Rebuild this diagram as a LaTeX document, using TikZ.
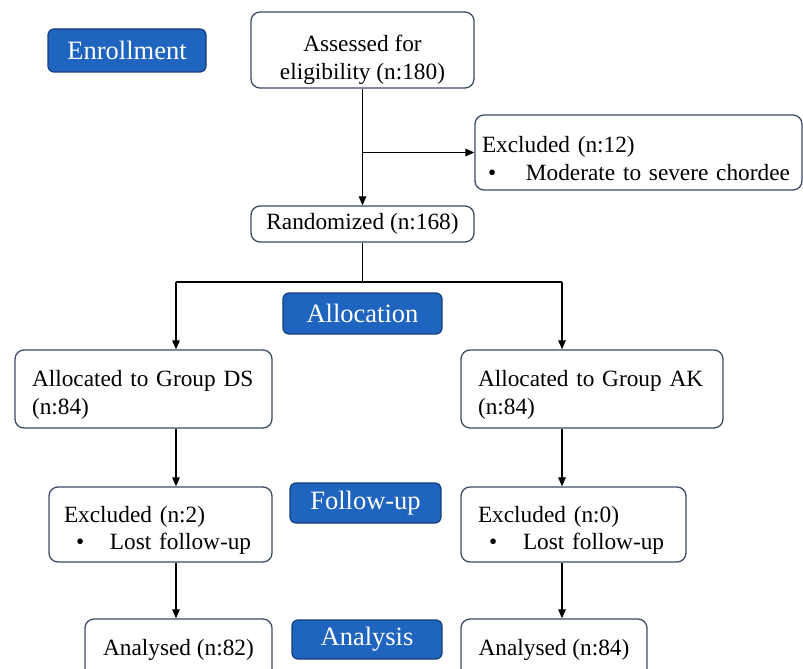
\documentclass[tikz,border=0pt]{standalone}
\usepackage{fontspec}
\setmainfont{Liberation Serif}
\usetikzlibrary{arrows.meta}
\definecolor{phaseblue}{RGB}{31,101,192}
\definecolor{phaseedge}{RGB}{22,62,120}
\definecolor{boxedge}{RGB}{60,75,102}
\begin{document}
\begin{tikzpicture}[x=1pt,y=-1pt,
        phase/.style={draw=phaseedge,line width=1.2pt,fill=phaseblue,rounded corners=6pt,text=white,inner sep=0pt,font=\fontsize{26.5}{30}\selectfont},
        stepbox/.style={draw=boxedge,line width=1.3pt,fill=white,rounded corners=9pt,inner ysep=0pt,font=\fontsize{23.3}{27.5}\selectfont},
        twoline/.style={execute at begin node={\rule{0pt}{28pt}}},
        leftbox/.style={stepbox,twoline,align=left},
        link/.style={line width=1.2pt},
        flow/.style={link,-{Triangle[length=9pt,width=7.5pt]}}]
    \path[use as bounding box,fill=white] (0,0) rectangle (803,669);
                \node[phase,minimum width=158pt,minimum height=43pt] (enroll) at (127,50.5){Enrollment};
                \node[stepbox,align=center,minimum width=223pt,minimum height=76pt] (assess) at (362.5,50){\rule{0pt}{36pt}Assessed for\\eligibility (n:180)};
                \node[leftbox,text width=313pt,inner xsep=7pt,minimum height=75pt] (excl) at (638.5,152.5){Excluded (n:12)\\\hspace*{6pt}\makebox[38pt][l]{\textbullet}Moderate to severe chordee};
                \node[stepbox,minimum width=223pt,minimum height=36pt] (rand) at (362.5,224){Randomized (n:168)};
                \node[phase,minimum width=159pt,minimum height=41pt] (alloc) at (362.5,313.5){Allocation};
                \node[leftbox,text width=223pt,inner xsep=17pt,minimum height=78pt] (grpds) at (143.5,389){Allocated to Group DS\\(n:84)};
                \node[leftbox,text width=228pt,inner xsep=17pt,minimum height=78pt] (grpak) at (592,389){Allocated to Group AK\\(n:84)};
                \node[leftbox,text width=193pt,inner xsep=15pt,minimum height=75pt] (exds) at (160.5,524.5){Excluded (n:2)\\\hspace*{12pt}\makebox[34pt][l]{\textbullet}Lost follow-up};
                \node[phase,minimum width=151pt,minimum height=40pt] (follow) at (365.5,503){Follow-up};
                \node[leftbox,text width=191pt,inner xsep=17pt,minimum height=75pt] (exak) at (573.5,524.5){Excluded (n:0)\\\hspace*{11pt}\makebox[34pt][l]{\textbullet}Lost follow-up};
                \node[stepbox,minimum width=187pt,minimum height=62pt] (anads) at (178.5,650){Analysed (n:82)};
                \node[phase,minimum width=150pt,minimum height=39pt] (analysis) at (367,639.5){Analysis};
                \node[stepbox,minimum width=186pt,minimum height=62pt] (anaak) at (554,650){Analysed (n:84)};
    \coordinate (br) at (assess.south |- excl.west);
    \coordinate (cl) at (176,282);
    \coordinate (cr) at (562,282);
                \draw[flow] (assess) -- (rand);
                \draw[flow] (br) -- (excl.west);
                \draw[link] (rand.south) -- (rand.south |- cl);
                \draw[link] (cl) -- (cr);
                \draw[flow] (cl) -- (cl |- grpds.north);
                \draw[flow] (cr) -- (cr |- grpak.north);
                \draw[flow] (cl |- grpds.south) -- (cl |- exds.north);
                \draw[flow] (cr |- grpak.south) -- (cr |- exak.north);
                \draw[flow] (cl |- exds.south) -- (cl |- anads.north);
                \draw[flow] (cr |- exak.south) -- (cr |- anaak.north);
\end{tikzpicture}
\end{document}
